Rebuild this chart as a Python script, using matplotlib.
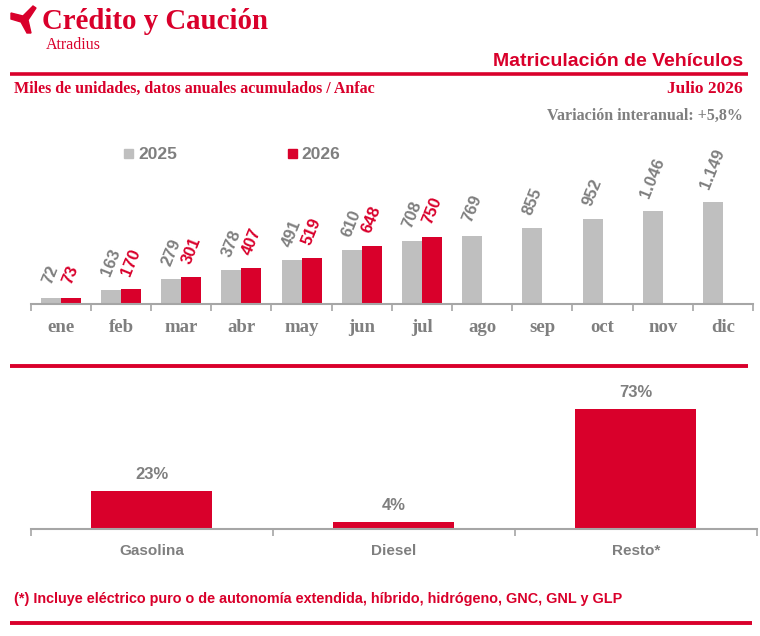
import matplotlib
matplotlib.use("Agg")
import matplotlib.pyplot as plt
from matplotlib.patches import Polygon
from matplotlib.lines import Line2D

# datos
meses = ["ene", "feb", "mar", "abr", "may", "jun", "jul", "ago", "sep", "oct", "nov", "dic"]
valores_2025 = [72, 163, 279, 378, 491, 610, 708, 769, 855, 952, 1046, 1149]
valores_2026 = [73, 170, 301, 407, 519, 648, 750]
etiquetas_2025 = ["72", "163", "279", "378", "491", "610", "708", "769", "855", "952", "1.046", "1.149"]

combustibles = ["Gasolina", "Diesel", "Resto*"]
cuotas = [23, 4, 73]

ROJO = "#d9002b"
GRIS_BARRA = "#bfbfbf"
GRIS_TEXTO = "#7f7f7f"
GRIS_EJE = "#a6a6a6"

SERIF = ["Liberation Serif", "DejaVu Serif"]
SANS = ["Liberation Sans", "DejaVu Sans"]

W, H = 760, 636
fig = plt.figure(figsize=(W / 100, H / 100), dpi=100)


def fx(x):
    return x / W


def fy(y):
    return 1 - y / H


def hline(y, x0, x1, lw):
    fig.add_artist(Line2D([fx(x0), fx(x1)], [fy(y), fy(y)], color=ROJO, lw=lw,
                          transform=fig.transFigure, solid_capstyle="butt"))


# cabecera
icono = [(11, 13), (23, 16), (33, 6), (36, 8), (28, 20), (31, 33), (27, 33), (21, 22), (11, 19)]
fig.add_artist(Polygon([(fx(a), fy(b)) for a, b in icono], closed=True, color=ROJO,
                       transform=fig.transFigure))
fig.text(fx(42), fy(29), "Crédito y Caución", family=SERIF, weight="bold", size=20.8,
         color=ROJO, va="baseline")
fig.text(fx(46), fy(49), "Atradius", family=SERIF, size=11.5, color=ROJO, va="baseline")
fig.text(fx(743), fy(66), "Matriculación de Vehículos", family=SANS, weight="bold",
         size=14, color=ROJO, ha="right", va="baseline")
hline(73.5, 10, 748, 2.6)
fig.text(fx(14), fy(93), "Miles de unidades, datos anuales acumulados / Anfac", family=SERIF,
         weight="bold", size=11.5, color=ROJO, va="baseline")
fig.text(fx(743), fy(93), "Julio 2026", family=SERIF, weight="bold", size=12.5,
         color=ROJO, ha="right", va="baseline")
fig.text(fx(743), fy(120), "Variación interanual: +5,8%", family=SERIF, weight="bold",
         size=11.5, color=GRIS_TEXTO, ha="right", va="baseline")

# grafico superior
ax1 = fig.add_axes([fx(30.7), fy(304), fx(753) - fx(30.7), fy(165) - fy(304)])
pos = list(range(len(meses)))
w = 0.332
b1 = ax1.bar([p - w / 2 for p in pos], valores_2025, width=w, color=GRIS_BARRA, label="2025")
b2 = ax1.bar([p + w / 2 for p in range(len(valores_2026))], valores_2026, width=w,
             color=ROJO, label="2026")
for rect, txt in zip(b1, etiquetas_2025):
    ax1.annotate(txt, (rect.get_x() + rect.get_width() / 2, rect.get_height()),
                 xytext=(0, 8), textcoords="offset points", rotation=68, ha="center",
                 va="bottom", family=SANS, weight="bold", size=12, color=GRIS_TEXTO)
for rect, v in zip(b2, valores_2026):
    ax1.annotate(str(v), (rect.get_x() + rect.get_width() / 2, rect.get_height()),
                 xytext=(0, 8), textcoords="offset points", rotation=68, ha="center",
                 va="bottom", family=SANS, weight="bold", size=12, color=ROJO)
ax1.set_xlim(-0.5, len(meses) - 0.5)
ax1.set_ylim(0, 1565)
ax1.set_xticks(pos)
ax1.set_xticklabels(meses, family=SERIF, weight="bold", size=13.5, color=GRIS_TEXTO)
ax1.set_xticks([p - 0.5 for p in range(len(meses) + 1)], minor=True)
ax1.tick_params(axis="x", which="major", length=0, pad=11)
ax1.tick_params(axis="x", which="minor", length=5, width=1.2, color=GRIS_EJE, direction="out")
ax1.set_yticks([])
for s in ["top", "right", "left"]:
    ax1.spines[s].set_visible(False)
ax1.spines["bottom"].set_color(GRIS_EJE)
ax1.spines["bottom"].set_linewidth(1.5)
ax1.patch.set_alpha(0)

# leyenda
fig.add_artist(plt.Rectangle((fx(124), fy(158.3)), fx(9), 9 / H, color=GRIS_BARRA,
                             transform=fig.transFigure))
fig.text(fx(138), fy(159), "2025", family=SANS, weight="bold", size=12.5,
         color=GRIS_TEXTO, va="baseline")
fig.add_artist(plt.Rectangle((fx(288), fy(158.3)), fx(9), 9 / H, color=ROJO,
                             transform=fig.transFigure))
fig.text(fx(301), fy(159), "2026", family=SANS, weight="bold", size=12.5,
         color=GRIS_TEXTO, va="baseline")

# separador
hline(366, 10, 748, 2.8)

# grafico inferior
ax2 = fig.add_axes([fx(30.7), fy(528.5), fx(756.7) - fx(30.7), fy(380) - fy(528.5)])
pos2 = list(range(len(combustibles)))
b3 = ax2.bar(pos2, cuotas, width=0.5, color=ROJO)
for rect, v in zip(b3, cuotas):
    ax2.annotate(f"{v}%", (rect.get_x() + rect.get_width() / 2, rect.get_height()),
                 xytext=(0, 6.5), textcoords="offset points", ha="center", va="bottom",
                 family=SANS, weight="bold", size=12, color=GRIS_TEXTO)
ax2.set_xlim(-0.5, len(combustibles) - 0.5)
ax2.set_ylim(0, 91)
ax2.set_xticks(pos2)
ax2.set_xticklabels(combustibles, family=SANS, weight="bold", size=11, color=GRIS_TEXTO)
ax2.set_xticks([p - 0.5 for p in range(len(combustibles) + 1)], minor=True)
ax2.tick_params(axis="x", which="major", length=0, pad=11)
ax2.tick_params(axis="x", which="minor", length=5, width=1.2, color=GRIS_EJE, direction="out")
ax2.set_yticks([])
for s in ["top", "right", "left"]:
    ax2.spines[s].set_visible(False)
ax2.spines["bottom"].set_color(GRIS_EJE)
ax2.spines["bottom"].set_linewidth(1.5)
ax2.patch.set_alpha(0)

fig.text(fx(14), fy(603), "(*) Incluye eléctrico puro o de autonomía extendida, híbrido, "
         "hidrógeno, GNC, GNL y GLP", family=SANS, weight="bold", size=10.4, color=ROJO,
         va="baseline")
hline(623, 10, 752, 2.8)

fig.savefig("out.png", dpi=100)
